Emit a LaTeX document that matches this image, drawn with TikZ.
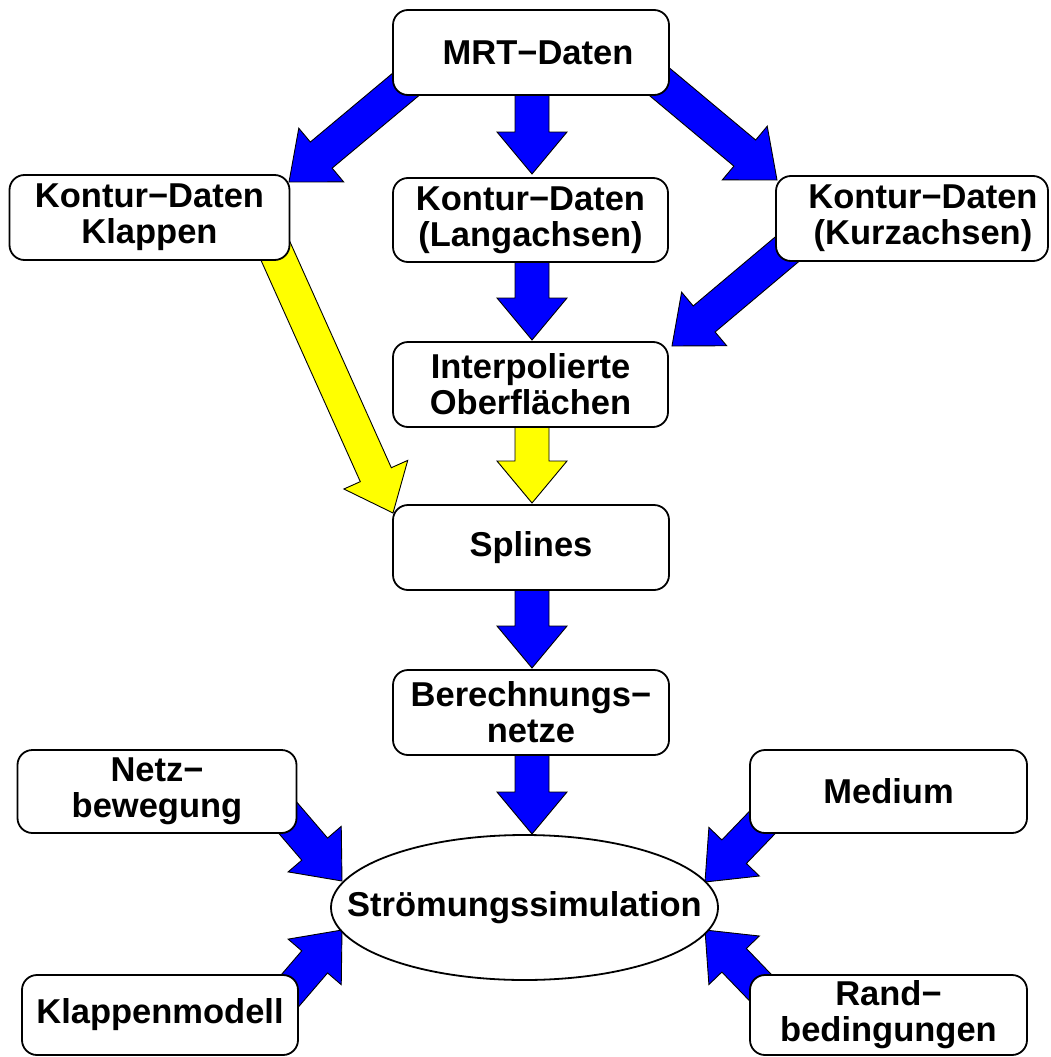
\documentclass[tikz,border=0pt]{standalone}
\usepackage{fontspec}
\setmainfont{Liberation Sans}
\usetikzlibrary{calc,shapes.geometric,backgrounds}
\definecolor{arrblue}{RGB}{0,0,255}
\definecolor{arryellow}{RGB}{255,255,0}
\tikzset{
  box/.style={draw=black, line width=1.8pt, rounded corners=15pt, fill=white,
    align=center, inner sep=0pt, font=\bfseries\fontsize{34.5}{36}\selectfont},
  simnode/.style={draw=black, ellipse, line width=1.8pt, fill=white,
    inner xsep=-46pt, inner ysep=0pt,
    minimum width=387pt, minimum height=145pt, font=\bfseries\fontsize{34.5}{36}\selectfont},
  blockarrow/.style={draw=black, line width=0.9pt, line join=miter}
}
\newcommand{\blockarr}[3]{%
  \path (#3) coordinate (bt) ($(#3)!42pt!(#2)$) coordinate (bc);
  \path[blockarrow, fill=#1]
    ($(#2)!17pt!90:(bt)$) -- ($(bc)!17pt!90:(bt)$) -- ($(bc)!35pt!90:(bt)$) --
    (bt) -- ($(bc)!35pt!-90:(bt)$) -- ($(bc)!17pt!-90:(bt)$) --
    ($(#2)!17pt!-90:(bt)$) -- cycle;
}
\begin{document}
\begin{tikzpicture}[x=1pt,y=-1pt]
\useasboundingbox (0,0) rectangle (1051,1057);

\node[box, minimum width=276pt, minimum height=85pt] (mrt) at (531,52.5) {\hspace*{14pt}MRT−Daten};
\node[box, minimum width=280pt, minimum height=85pt] (klap) at (149.5,217.5) {Kontur−Daten\\Klappen};
\node[box, minimum width=275pt, minimum height=84pt] (lang) at (530.5,220) {Kontur−Daten\\(Langachsen)};
\node[box, minimum width=272pt, minimum height=85pt] (kurz) at (912,218.5) {\hspace*{22pt}Kontur−Daten\\\hspace*{22pt}(Kurzachsen)};
\node[box, minimum width=275pt, minimum height=85pt] (interp) at (530.5,384.5) {Interpolierte\\Oberflächen};
\node[box, minimum width=276pt, minimum height=85pt] (spl) at (531,547.5) {Splines};
\node[box, minimum width=276pt, minimum height=85pt] (ber) at (531,712.5) {Berechnungs−\\netze};
\node[box, minimum width=279pt, minimum height=83pt] (netz) at (157,791.5) {Netz−\\bewegung};
\node[box, minimum width=277pt, minimum height=83pt] (med) at (888.5,791.5) {Medium};
\node[box, minimum width=276pt, minimum height=80pt] (kmod) at (160,1015) {Klappenmodell};
\node[box, minimum width=277pt, minimum height=80pt] (rand) at (888.5,1015) {Rand−\\bedingungen};
\node[simnode] (sim) at (524.5,907.5) {Strömungssimulation};

% connector end points
\coordinate (a1s) at (435,60);   \coordinate (a1e) at (289,182);
\coordinate (a2s) at (532,60);   \coordinate (a2e) at (532,174);
\coordinate (a3s) at (631,58);   \coordinate (a3e) at (777,180);
\coordinate (a4s) at (532,230);  \coordinate (a4e) at (532,340);
\coordinate (a5s) at (817,224);  \coordinate (a5e) at (672,346);
\coordinate (a6s) at (262,221);  \coordinate (a6e) at (393,513);
\coordinate (a7s) at (532,400);  \coordinate (a7e) at (532,503);
\coordinate (a8s) at (532,560);  \coordinate (a8e) at (532,668);
\coordinate (a9s) at (532,720);  \coordinate (a9e) at (532,834);
\coordinate (a10s) at (270,797); \coordinate (a10e) at (342,881);
\coordinate (a11s) at (270,1014);\coordinate (a11e) at (342,930);
\coordinate (a12s) at (781,803); \coordinate (a12e) at (705,882);
\coordinate (a13s) at (781,1009);\coordinate (a13e) at (705,930);

\begin{pgfonlayer}{background}
\blockarr{arrblue}{a1s}{a1e}
\blockarr{arrblue}{a2s}{a2e}
\blockarr{arrblue}{a3s}{a3e}
\blockarr{arrblue}{a4s}{a4e}
\blockarr{arrblue}{a5s}{a5e}
\blockarr{arryellow}{a6s}{a6e}
\blockarr{arryellow}{a7s}{a7e}
\blockarr{arrblue}{a8s}{a8e}
\blockarr{arrblue}{a9s}{a9e}
\blockarr{arrblue}{a10s}{a10e}
\blockarr{arrblue}{a11s}{a11e}
\blockarr{arrblue}{a12s}{a12e}
\blockarr{arrblue}{a13s}{a13e}
\end{pgfonlayer}
\end{tikzpicture}
\end{document}
